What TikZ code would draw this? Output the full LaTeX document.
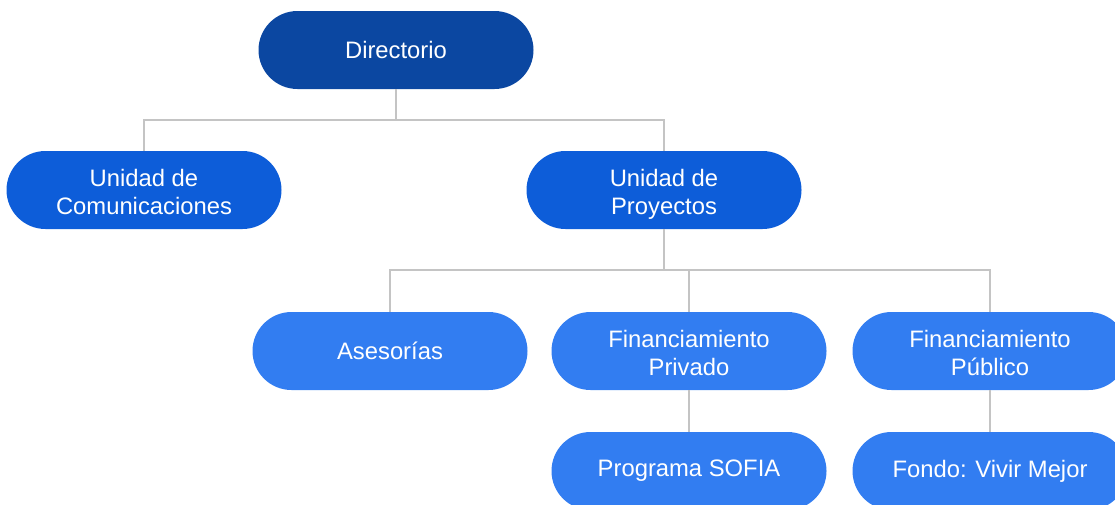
\documentclass[tikz,border=0pt]{standalone}
\usepackage{fontspec}
\setmainfont{Liberation Sans}
\definecolor{c1}{HTML}{0B47A1}
\definecolor{c2}{HTML}{0D5DD9}
\definecolor{c3}{HTML}{327DF1}
\definecolor{lineg}{HTML}{C4C4C4}
\newcommand{\twoline}[2]{\raisebox{-5pt}[\height][\depth]{\begin{tabular}{@{}c@{}}#1\\#2\end{tabular}}}
\begin{document}
\begin{tikzpicture}[x=1pt,y=-1pt,
  box/.style={rounded corners=39pt, minimum width=275pt, minimum height=78pt, inner sep=0pt, align=center, text=white, font=\fontsize{23.8}{28}\selectfont},
  lvla/.style={box, fill=c1},
  lvlb/.style={box, fill=c2},
  lvlc/.style={box, fill=c3},
  conn/.style={draw=lineg, line width=1.6pt}]
\useasboundingbox (0,0) rectangle (1115,504);
\clip (0,0) rectangle (1115,504);
\node[lvla] (dir) at (396,50) {Directorio};
\node[lvlb] (com) at (144,190) {\twoline{Unidad de}{Comunicaciones}};
\node[lvlb] (proy) at (664,190) {\twoline{Unidad de}{Proyectos}};
\node[lvlc] (ase) at (390,351) {Asesorías};
\node[lvlc] (priv) at (689,351) {\twoline{Financiamiento}{Privado}};
\node[lvlc] (pub) at (990,351) {\twoline{Financiamiento}{Público}};
\node[lvlc] (sofia) at (689,471) {Programa SOFIA};
\node[lvlc] (fondo) at (990,471) {Fondo: Vivir Mejor};
\coordinate (j1) at (396,120);
\coordinate (j2) at (664,270);
\draw[conn] (dir.south) -- (j1);
\draw[conn] (j1) -| (com.north);
\draw[conn] (j1) -| (proy.north);
\draw[conn] (proy.south) -- (j2);
\draw[conn] (j2) -| (ase.north);
\draw[conn] (j2) -| (priv.north);
\draw[conn] (j2) -| (pub.north);
\draw[conn] (priv.south) -- (sofia.north);
\draw[conn] (pub.south) -- (fondo.north);
\end{tikzpicture}
\end{document}
